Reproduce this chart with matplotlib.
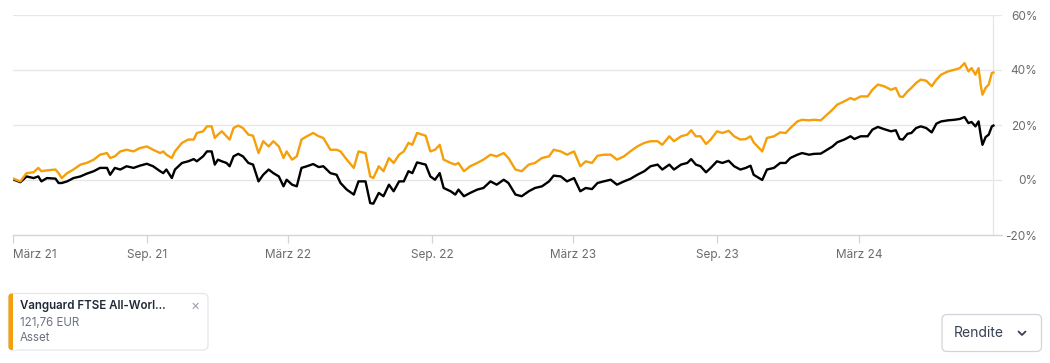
import matplotlib
matplotlib.use('Agg')
import matplotlib.pyplot as plt
from matplotlib.patches import FancyBboxPatch, Rectangle
import pandas as pd

plt.rcParams['font.family'] = ['Inter', 'DejaVu Sans']

# --- Daten (Rendite in %) ---
dates = [
    '2021-03-14', '2021-03-23', '2021-03-31', '2021-04-09', '2021-04-15', '2021-04-19', '2021-04-26',
    '2021-05-07', '2021-05-11', '2021-05-15', '2021-05-22', '2021-05-30', '2021-06-08', '2021-06-16',
    '2021-06-25', '2021-07-03', '2021-07-12', '2021-07-16', '2021-07-22', '2021-07-29', '2021-08-06',
    '2021-08-15', '2021-08-23', '2021-09-01', '2021-09-09', '2021-09-18', '2021-09-22', '2021-09-26',
    '2021-10-03', '2021-10-07', '2021-10-16', '2021-10-24', '2021-10-31', '2021-11-04', '2021-11-12',
    '2021-11-17', '2021-11-23', '2021-11-27', '2021-12-01', '2021-12-06', '2021-12-12', '2021-12-16',
    '2021-12-21', '2021-12-27', '2022-01-02', '2022-01-09', '2022-01-15', '2022-01-22', '2022-01-28',
    '2022-02-04', '2022-02-10', '2022-02-17', '2022-02-23', '2022-02-27', '2022-03-06', '2022-03-12',
    '2022-03-18', '2022-03-25', '2022-04-02', '2022-04-09', '2022-04-15', '2022-04-24', '2022-05-02',
    '2022-05-07', '2022-05-15', '2022-05-24', '2022-05-30', '2022-06-08', '2022-06-14', '2022-06-18',
    '2022-06-25', '2022-07-01', '2022-07-08', '2022-07-14', '2022-07-21', '2022-07-27', '2022-08-02',
    '2022-08-07', '2022-08-13', '2022-08-24', '2022-08-30', '2022-09-05', '2022-09-11', '2022-09-16',
    '2022-09-25', '2022-10-01', '2022-10-05', '2022-10-12', '2022-10-20', '2022-10-29', '2022-11-06',
    '2022-11-15', '2022-11-23', '2022-12-02', '2022-12-08', '2022-12-17', '2022-12-25', '2023-01-03',
    '2023-01-11', '2023-01-20', '2023-01-29', '2023-02-04', '2023-02-13', '2023-02-21', '2023-03-02',
    '2023-03-10', '2023-03-17', '2023-03-25', '2023-04-01', '2023-04-09', '2023-04-18', '2023-04-26',
    '2023-05-05', '2023-05-13', '2023-05-22', '2023-05-31', '2023-06-08', '2023-06-17', '2023-06-23',
    '2023-07-02', '2023-07-08', '2023-07-17', '2023-07-25', '2023-07-30', '2023-08-05', '2023-08-11',
    '2023-08-18', '2023-08-24', '2023-09-01', '2023-09-08', '2023-09-16', '2023-09-23', '2023-10-01',
    '2023-10-08', '2023-10-14', '2023-10-18', '2023-10-25', '2023-10-29', '2023-11-04', '2023-11-13',
    '2023-11-21', '2023-11-28', '2023-12-04', '2023-12-13', '2023-12-19', '2023-12-28', '2024-01-03',
    '2024-01-12', '2024-01-20', '2024-01-27', '2024-02-02', '2024-02-11', '2024-02-19', '2024-02-24',
    '2024-03-03', '2024-03-12', '2024-03-18', '2024-03-25', '2024-04-02', '2024-04-11', '2024-04-17',
    '2024-04-22', '2024-04-26', '2024-05-02', '2024-05-07', '2024-05-13', '2024-05-19', '2024-05-26',
    '2024-06-02', '2024-06-08', '2024-06-14', '2024-06-23', '2024-07-01', '2024-07-08', '2024-07-14',
    '2024-07-19', '2024-07-23', '2024-07-28', '2024-08-01', '2024-08-04', '2024-08-06', '2024-08-10',
    '2024-08-14', '2024-08-18', '2024-08-20',
]

# orange Linie
asset = [
    0.5, -0.5, 2.5, 2.8, 4.4, 3.2, 3.5,
    3.8, 2.5, 0.7, 2.5, 3.8, 5.6, 6.2,
    7.4, 9.2, 9.8, 8.0, 8.6, 10.4, 11.0,
    10.4, 11.6, 12.2, 11.0, 9.8, 10.4, 9.2,
    8.0, 10.4, 13.5, 14.7, 14.7, 17.1, 17.7,
    19.5, 19.5, 15.3, 16.5, 17.7, 15.9, 14.7,
    18.9, 19.8, 18.9, 16.5, 16.1, 9.8, 14.1,
    12.2, 14.1, 12.2, 8.0, 10.4, 7.4, 8.6,
    14.7, 15.9, 17.1, 15.9, 15.3, 11.0, 11.0,
    10.4, 7.4, 4.4, 10.4, 9.8, 1.3, 0.7,
    5.0, 3.2, 8.0, 6.2, 9.2, 10.4, 13.5,
    12.8, 17.1, 16.1, 10.4, 11.0, 12.8, 7.4,
    6.2, 5.6, 6.2, 3.2, 5.0, 6.2, 7.4,
    9.2, 8.6, 9.8, 8.0, 3.8, 3.2, 5.6,
    6.2, 8.0, 8.6, 11.0, 10.4, 9.2, 10.4,
    5.0, 6.8, 6.2, 8.8, 9.2, 9.2, 7.4,
    8.6, 10.4, 12.2, 13.5, 14.1, 14.1, 12.8,
    15.9, 14.1, 15.9, 16.5, 18.1, 15.9, 15.9,
    13.1, 14.7, 17.7, 17.1, 17.9, 15.9, 14.7,
    14.9, 15.9, 13.7, 11.6, 10.4, 15.3, 15.9,
    17.3, 17.1, 18.9, 21.3, 21.9, 21.7, 21.9,
    21.7, 23.8, 25.6, 27.4, 28.6, 29.8, 29.2,
    30.4, 30.4, 32.8, 34.7, 34.1, 32.8, 33.5,
    30.4, 30.2, 32.2, 33.5, 35.3, 36.5, 36.1,
    34.1, 36.5, 38.3, 39.5, 40.1, 40.7, 42.5,
    39.5, 40.7, 38.3, 40.7, 34.1, 31.0, 33.5,
    34.7, 38.9, 39.1,
]

# schwarze Linie (Vergleich)
benchmark = [
    0.2, -0.8, 1.3, 0.7, 1.3, -0.5, 0.7,
    0.5, -1.1, -1.1, -0.5, 0.7, 1.3, 2.3,
    3.2, 4.4, 4.4, 1.9, 4.4, 3.8, 5.0,
    4.4, 5.2, 5.9, 5.0, 3.2, 2.5, 3.8,
    0.7, 3.8, 6.2, 6.8, 7.6, 6.8, 8.6,
    10.4, 10.4, 5.6, 7.4, 6.8, 6.2, 5.0,
    8.6, 9.5, 8.6, 6.2, 5.6, -0.5, 1.9,
    3.8, 2.5, 1.3, -2.3, 0.1, -1.7, -2.3,
    4.4, 5.0, 5.8, 4.7, 5.0, 2.5, 1.9,
    -1.1, -3.5, -5.3, -0.5, -0.5, -8.4, -8.6,
    -4.7, -5.9, -1.7, -4.1, -0.5, -0.5, 3.2,
    2.5, 6.4, 5.6, 1.3, 0.1, 2.5, -2.9,
    -4.1, -5.3, -3.5, -5.9, -4.7, -3.5, -2.9,
    -0.5, -1.7, 0.1, -1.1, -5.3, -5.9, -4.1,
    -2.9, -2.3, -0.5, 1.6, 1.3, -0.5, 0.7,
    -4.1, -2.9, -3.3, -1.1, -0.5, 0.1, -1.7,
    -0.5, 0.4, 1.9, 3.2, 5.0, 5.6, 3.8,
    5.6, 3.8, 5.6, 6.2, 7.6, 5.6, 5.0,
    2.8, 4.4, 6.8, 6.2, 7.0, 5.0, 3.8,
    4.4, 5.2, 1.9, 0.7, 0.0, 3.8, 4.4,
    6.2, 6.2, 8.0, 9.2, 9.8, 9.2, 9.5,
    9.6, 11.0, 12.2, 13.7, 14.7, 15.9, 14.9,
    15.9, 15.9, 18.3, 19.3, 18.5, 17.7, 18.1,
    14.9, 14.7, 16.8, 17.1, 18.9, 19.5, 18.9,
    17.3, 20.5, 21.3, 21.7, 21.9, 22.2, 22.9,
    20.7, 21.1, 19.5, 21.3, 15.9, 12.8, 15.6,
    16.5, 19.5, 19.8,
]

tick_dates = ['2021-03-14', '2021-09-01', '2022-03-01', '2022-09-01',
              '2023-03-01', '2023-09-01', '2024-03-01']
tick_labels = ['März 21', 'Sep. 21', 'März 22', 'Sep. 22', 'März 23', 'Sep. 23', 'März 24']
y_ticks = [-20, 0, 20, 40, 60]
y_labels = ['-20%', '0%', '20%', '40%', '60%']

ORANGE = '#f59f0b'
GRID = '#e6e6e6'
TXT = '#6b6b6b'

W, H = 1050, 363
fig = plt.figure(figsize=(W / 100, H / 100), dpi=100)

# Plotbereich in Pixeln: x 13..1002, y 15..235
ax = fig.add_axes([13.3 / W, 1 - 235 / H, (1002 - 13.3) / W, 220 / H])
x = pd.to_datetime(dates)
ax.plot(x, benchmark, color='#000000', lw=1.7, zorder=3, solid_joinstyle='round')
ax.plot(x, asset, color=ORANGE, lw=1.7, zorder=4, solid_joinstyle='round')

ax.set_xlim(pd.Timestamp('2021-03-14'), pd.Timestamp('2024-08-31'))
ax.set_ylim(-20, 60)
for v in y_ticks[1:]:
    ax.axhline(v, color=GRID, lw=0.9, zorder=1)
ax.axvline(x[-1], color=GRID, lw=0.9, zorder=1)

for s in ['top', 'right', 'left']:
    ax.spines[s].set_visible(False)
ax.spines['bottom'].set_color('#d4d4d4')
ax.spines['bottom'].set_linewidth(1.0)

ax.set_xticks(pd.to_datetime(tick_dates))
ax.set_xticklabels(tick_labels, fontsize=8.5, color=TXT)
ax.tick_params(axis='x', length=6, width=0.9, color='#d4d4d4', pad=4)
ax.get_xticklabels()[0].set_ha('left')

ax.yaxis.tick_right()
ax.set_yticks(y_ticks)
ax.set_yticklabels(y_labels, fontsize=8.5, color=TXT, ha='right')
ax.tick_params(axis='y', length=0, pad=25.5)

# --- Legenden-Karte und Button (Overlay in Pixelkoordinaten) ---
ov = fig.add_axes([0, 0, 1, 1])
ov.set_xlim(0, W)
ov.set_ylim(H, 0)
ov.axis('off')

ov.add_patch(FancyBboxPatch((8.5, 293.5), 199.5, 56.5, boxstyle='round,pad=0,rounding_size=5',
                            facecolor='white', edgecolor='#e5e7eb', lw=0.9))
ov.add_patch(FancyBboxPatch((8.5, 293.5), 6, 56.5, boxstyle='round,pad=0,rounding_size=3',
                            facecolor=ORANGE, edgecolor='none'))
ov.add_patch(Rectangle((12.5, 294), 4, 55.5, facecolor='white', edgecolor='none'))
ov.text(20, 306, 'Vanguard FTSE All-Worl...', fontsize=8.3, fontweight='semibold',
        color='#1f2937', va='center', ha='left')
ov.text(20, 322.5, '121,76 EUR', fontsize=8.3, color='#6b7280', va='center', ha='left')
ov.text(20, 338, 'Asset', fontsize=8.3, color='#6b7280', va='center', ha='left')
ov.text(195.5, 305.5, '×', fontsize=10, color='#9ca3af', va='center', ha='center')

ov.add_patch(FancyBboxPatch((942, 314.5), 99.5, 37, boxstyle='round,pad=0,rounding_size=5',
                            facecolor='white', edgecolor='#d1d5db', lw=0.9))
ov.text(954, 333, 'Rendite', fontsize=10, color='#374151', va='center', ha='left')
ov.plot([1018.5, 1022, 1025.5], [331.5, 335, 331.5], color='#374151', lw=1.3,
        solid_capstyle='round', solid_joinstyle='round')

fig.savefig('out.png', dpi=100)
